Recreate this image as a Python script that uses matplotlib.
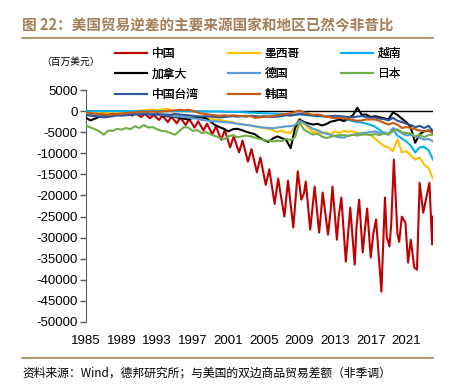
import numpy as np
import matplotlib
matplotlib.use('Agg')
import matplotlib.pyplot as plt
from matplotlib.lines import Line2D

# -----------------------------------------------------------------------------
# Data (USD mn, monthly bilateral goods balance)

names = ['中国', '墨西哥', '越南', '加拿大', '德国', '日本', '中国台湾', '韩国']
colors = ['#c00000', '#ffc000', '#00b0f0', '#000000', '#5b9bd5', '#70ad47', '#2f5597', '#c55a11']

# China has its own (denser) time points because of the big seasonal swing
china_t = [1985.0, 1985.2, 1985.6, 1986.2, 1986.6, 1987.2, 1987.6, 1988.2, 1988.6, 1989.2,
           1989.6, 1990.2, 1990.6, 1991.2, 1991.6, 1992.2, 1992.6, 1993.2, 1993.6, 1994.2,
           1994.6, 1995.2, 1995.6, 1996.2, 1996.6, 1997.2, 1997.6, 1998.2, 1998.6, 1999.2,
           1999.6, 2000.2, 2000.6, 2001.2, 2001.6, 2002.2, 2002.6, 2003.2, 2003.6, 2004.2,
           2004.6, 2005.2, 2005.6, 2006.2, 2006.6, 2006.9, 2007.3, 2007.7, 2008.3, 2008.8,
           2009.2, 2009.5, 2009.7, 2010.2, 2010.5, 2010.7, 2011.2, 2011.4, 2011.6, 2012.2,
           2012.5, 2012.7, 2013.2, 2013.4, 2013.7, 2014.2, 2014.5, 2014.7, 2015.2, 2015.4,
           2015.7, 2016.1, 2016.4, 2016.6, 2017.0, 2017.3, 2017.6, 2018.2, 2018.6, 2018.8,
           2019.1, 2019.3, 2019.6, 2020.0, 2020.2, 2020.5, 2020.9, 2021.2, 2021.5, 2021.9,
           2022.2, 2022.5, 2022.9, 2023.2, 2023.6, 2023.9, 2024.0]
china = [-100, -300, -100, -400, -200, -500, -200, -700, -300, -900,
         -400, -1100, -500, -1400, -700, -1700, -900, -2100, -1100, -2600,
         -1300, -2900, -1500, -3300, -1900, -3900, -2400, -4600, -3000, -5500,
         -3600, -6800, -4500, -8600, -6000, -9800, -7000, -12000, -9000, -14500,
         -11000, -17500, -13800, -22000, -16000, -20000, -25000, -16500, -27600, -14300,
         -21000, -19500, -16700, -28100, -22000, -17900, -28800, -24500, -19300, -29300,
         -23500, -17900, -30500, -25000, -20500, -35700, -28000, -22900, -36400, -27500,
         -21000, -33500, -27000, -23100, -34700, -29000, -25700, -42800, -20500, -29700,
         -32100, -27000, -11500, -29000, -31000, -25000, -26500, -35900, -30500, -37100,
         -37600, -17000, -24100, -21000, -17000, -31600, -25000]

# the other series on a half-year grid
years = np.arange(1985, 2024.01, 0.5)

mexico = [-600, -400, -300, -500, -500, -400, -300, -200, -200, -300,
          -200, -100, 100, 200, 300, 400, 200, 300, 500, 400,
          -1000, -1300, -1400, -1500, -1300, -1400, -1300, -1400, -1800, -2000,
          -2100, -2300, -2500, -2600, -3000, -3200, -3300, -3400, -3600, -3800,
          -4000, -4200, -4500, -5000, -4600, -5100, -5200, -3400, -1800, -3000,
          -4000, -5000, -4800, -5300, -5000, -5500, -4800, -5200, -4700, -4900,
          -4800, -5200, -5300, -5500, -5700, -6500, -7500, -8300, -8600, -9500,
          -6700, -9800, -9500, -10500, -11500, -11000, -12700, -13500, -16000]

vietnam = [0, 0, 0, 0, 0, 0, 0, 0, 0, 0,
           0, 0, 0, 0, 0, 0, 0, 0, 0, 0,
           0, 0, 0, 0, -50, -50, -50, -80, -100, -100,
           -100, -150, -200, -200, -200, -250, -300, -350, -400, -450,
           -500, -550, -600, -650, -700, -800, -900, -850, -800, -900,
           -1000, -1100, -1200, -1250, -1300, -1450, -1600, -1750, -1900, -2100,
           -2400, -2600, -2700, -3000, -3300, -3700, -4500, -5200, -5600, -4300,
           -5800, -6500, -7200, -8200, -9800, -8600, -8500, -9300, -11500]

canada = [-1600, -2200, -1800, -1300, -1000, -900, -800, -900, -700, -600,
          -600, -500, -500, -600, -700, -800, -900, -1000, -1200, -1300,
          -1400, -1600, -1800, -2000, -1600, -1500, -1500, -1700, -2500, -3300,
          -3800, -4200, -4800, -4300, -4200, -4500, -4900, -5200, -5500, -6300,
          -6900, -7300, -6500, -6000, -6400, -6800, -8800, -4000, -2000, -2600,
          -2900, -3200, -3000, -3400, -3100, -2500, -2300, -2000, -2400, -1600,
          -1000, 800, -900, -800, -1400, -1200, -1500, -1700, -2000, -300,
          -900, -1800, -2600, -3900, -7500, -5500, -4800, -4600, -5000]

germany = [-800, -900, -1100, -1200, -1300, -1200, -1100, -1000, -900, -800,
           -800, -700, -500, -400, -600, -700, -900, -900, -1000, -1100,
           -1300, -1300, -1400, -1500, -1700, -1800, -2100, -2200, -2400, -2400,
           -2500, -2600, -2700, -2800, -3000, -3100, -3300, -3400, -3600, -3800,
           -3900, -4000, -4100, -3900, -3800, -3600, -3600, -3300, -2300, -2800,
           -3500, -4200, -4500, -5000, -5400, -5600, -6000, -6200, -6300, -5800,
           -5600, -5400, -5300, -5100, -5000, -4800, -5200, -5000, -5400, -4000,
           -4600, -5200, -5800, -5600, -6000, -6300, -6800, -6600, -7200]

japan = [-3400, -3900, -4300, -4800, -5600, -4600, -4700, -4200, -4400, -4000,
         -4300, -3600, -4000, -3300, -3900, -3800, -4300, -4700, -4800, -5200,
         -5600, -4700, -3800, -3900, -4700, -4500, -5200, -5000, -5500, -5900,
         -6300, -6700, -6000, -5700, -6200, -6000, -5800, -6000, -6300, -6600,
         -6900, -7000, -7200, -7000, -7100, -6600, -6900, -6200, -2600, -4400,
         -5000, -5600, -5300, -6000, -6400, -6100, -5800, -5700, -5700, -5900,
         -5600, -5800, -5600, -5500, -5700, -5400, -5700, -5300, -5500, -4800,
         -4300, -5000, -5200, -5300, -6000, -5600, -6200, -5700, -5600]

taiwan = [-900, -1100, -1200, -1300, -1500, -1400, -1200, -1000, -1100, -1000,
          -900, -800, -800, -700, -800, -800, -700, -800, -800, -900,
          -700, -800, -900, -1000, -1100, -1200, -1300, -1200, -1300, -1400,
          -1500, -1400, -1300, -1200, -1300, -1200, -1300, -1100, -1200, -1300,
          -1200, -1300, -1400, -1300, -1200, -1000, -1100, -900, -600, -800,
          -900, -1000, -1200, -1100, -1300, -1200, -1100, -1200, -1300, -1400,
          -1500, -1300, -1200, -1400, -1600, -1500, -1800, -1900, -2200, -1600,
          -2300, -2600, -3000, -3300, -3800, -3500, -4000, -3500, -4800]

korea = [-300, -500, -600, -700, -800, -900, -800, -700, -600, -500,
         -400, -300, -200, -100, -200, -100, -200, -100, 0, 100,
         200, 300, 200, 300, 100, -300, -600, -700, -900, -1000,
         -1100, -1000, -1100, -1000, -1100, -1200, -1100, -1200, -1600, -1500,
         -1400, -1300, -1200, -1000, -800, -700, -500, -200, 100, -300,
         -600, -900, -800, -1000, -1300, -1500, -1700, -1600, -1700, -1900,
         -2100, -2300, -2200, -2000, -2000, -2000, -2300, -2800, -3200, -2800,
         -3200, -4000, -3800, -4000, -4300, -4600, -4800, -4600, -5300]

year_ticks = [1985, 1989, 1993, 1997, 2001, 2005, 2009, 2013, 2017, 2021]
y_ticks = list(range(-50000, 5001, 5000))

# -----------------------------------------------------------------------------

plt.rcParams['font.family'] = ['Liberation Sans', 'Noto Sans CJK SC']
cjk = ['Noto Sans CJK SC', 'DejaVu Sans']
W, H = 450, 387

fig = plt.figure(figsize=(4.5, 3.87), dpi=100)
ax = fig.add_axes([86 / W, 1 - 322 / H, (433 - 86) / W, (322 - 90) / H])

series = [china, mexico, vietnam, canada, germany, japan, taiwan, korea]
lines = []
for k, (name, vals, c) in enumerate(zip(names, series, colors)):
    t = china_t if k == 0 else years
    ln, = ax.plot(t, vals, color=c, lw=1.5, label=name, zorder=2 + k)
    lines.append(ln)

ax.axhline(0, color='black', lw=1.0, zorder=1.5)

ax.set_xlim(1985, 2024.0)
ax.set_ylim(-50000, 5000)
ax.set_yticks(y_ticks)
ax.set_yticklabels([str(v) for v in y_ticks], fontsize=9.5)
ax.set_xticks(year_ticks)
ax.set_xticklabels([str(v) for v in year_ticks], fontsize=9.5)
ax.tick_params(axis='x', length=0, pad=9)
ax.tick_params(axis='y', length=4, width=1, color='#595959', pad=2)
for s in ['top', 'right', 'bottom']:
    ax.spines[s].set_visible(False)
ax.spines['left'].set_color('#595959')

# legend: three columns, filled row by row
cols = [[0, 3, 6], [1, 4, 7], [2, 5]]
x_cols = [115, 228, 341]
for j, idx in enumerate(cols):
    leg = fig.legend([lines[i] for i in idx], [names[i] for i in idx],
                     loc='upper left', bbox_to_anchor=(x_cols[j] / W, 1 - 47 / H),
                     frameon=False, prop={'family': cjk, 'size': 8.5},
                     handlelength=2.7, handletextpad=0.4, labelspacing=0.62,
                     borderpad=0, borderaxespad=0)
    fig.add_artist(leg)

fig.text(70 / W, 1 - 62 / H, '（百万美元）', fontsize=7, family=cjk, ha='center', va='center')

# title, rules and source
fig.text(22 / W, 1 - 25 / H, '图 22：美国贸易逆差的主要来源国家和地区已然今非昔比',
         fontsize=10.5, fontweight='bold', color='#a37e58', family=cjk, va='center')
fig.add_artist(Line2D([22 / W, 433 / W], [1 - 38 / H] * 2, color='#b08c64', lw=1.3))
fig.add_artist(Line2D([22 / W, 433 / W], [1 - 358 / H] * 2, color='#b08c64', lw=1.3))
fig.text(22 / W, 1 - 373 / H, '资料来源：Wind，德邦研究所；与美国的双边商品贸易差额（非季调）',
         fontsize=8.5, family=cjk, va='center')

plt.savefig('out.png', dpi=100)
